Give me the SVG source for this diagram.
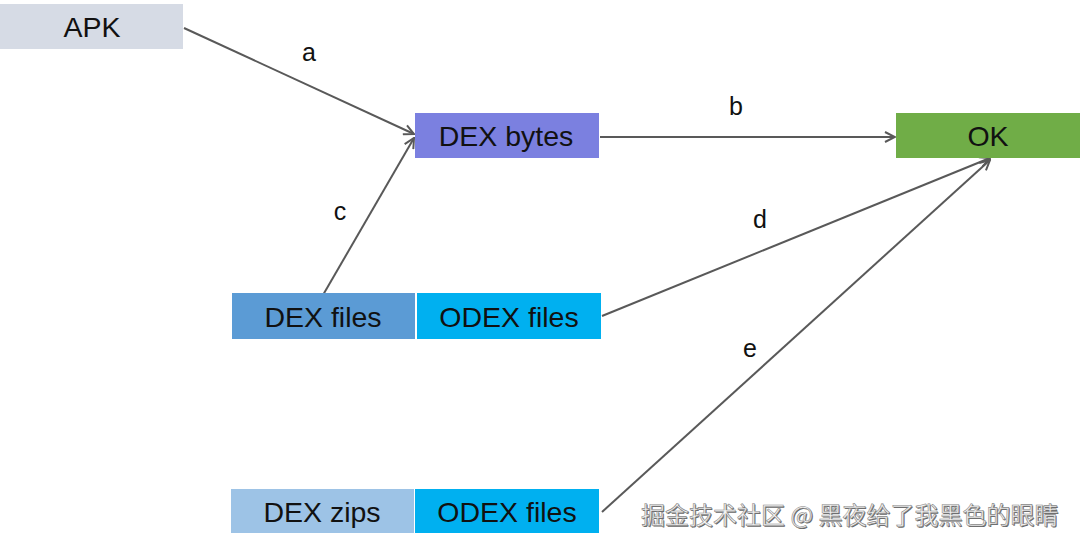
<svg xmlns="http://www.w3.org/2000/svg" width="1080" height="546" viewBox="0 0 1080 546">
<style>
.t{font-family:"Liberation Sans",Arial,sans-serif;font-size:28.5px;fill:#111;text-anchor:middle;dominant-baseline:central}
.l{font-family:"Liberation Sans",Arial,sans-serif;font-size:25px;fill:#111;text-anchor:middle;dominant-baseline:central}
.c{stroke:#595959;stroke-width:2;fill:none;marker-end:url(#ah)}
.w{font-family:"Noto Sans CJK SC",sans-serif;font-size:24px;text-anchor:start}
</style>
<defs>
<marker id="ah" viewBox="0 0 12 12" refX="11" refY="6" markerWidth="12" markerHeight="12" markerUnits="userSpaceOnUse" orient="auto">
<path d="M1,1 L11,6 L1,11" fill="none" stroke="#595959" stroke-width="2"/>
</marker>
</defs>
<rect width="1080" height="546" fill="#fff"/>
<g id="connectors">
<line class="c" x1="184" y1="28" x2="414" y2="134"/>
<line class="c" x1="323" y1="295" x2="414" y2="138"/>
<line class="c" x1="600" y1="137" x2="895" y2="137"/>
<line class="c" x1="602" y1="316" x2="990" y2="158"/>
<line class="c" x1="602" y1="512" x2="990" y2="160"/>
<text class="l" x="309" y="52">a</text>
<text class="l" x="736" y="106">b</text>
<text class="l" x="340" y="211">c</text>
<text class="l" x="760" y="219">d</text>
<text class="l" x="750" y="348">e</text>
</g>
<g id="apk"><rect x="0" y="4" width="183" height="45" fill="#d6dbe5"/><text class="t" x="92" y="27">APK</text></g>
<g id="dexbytes"><rect x="415" y="113" width="184" height="45" fill="#7b80e0"/><text class="t" x="506" y="136">DEX bytes</text></g>
<g id="ok"><rect x="896" y="113" width="184" height="45" fill="#70ad47"/><text class="t" x="988" y="136">OK</text></g>
<g id="dexfiles"><rect x="232" y="293" width="183" height="46" fill="#5b9bd5"/><text class="t" x="323" y="317">DEX files</text></g>
<g id="odexfiles1"><rect x="417" y="293" width="184" height="46" fill="#00b0f0"/><text class="t" x="509" y="317">ODEX files</text></g>
<g id="dexzips"><rect x="231" y="489" width="183" height="44" fill="#9dc3e6"/><text class="t" x="322" y="512">DEX zips</text></g>
<g id="odexfiles2"><rect x="415" y="489" width="184" height="44" fill="#00b0f0"/><text class="t" x="507" y="512">ODEX files</text></g>
<g id="watermark">
<text class="w" x="642" y="525" fill="#666">掘金技术社区 @ 黑夜给了我黑色的眼睛</text>
<text class="w" x="641" y="524" fill="#f4f4f4" stroke="#888" stroke-width="0.6">掘金技术社区 @ 黑夜给了我黑色的眼睛</text>
</g>
</svg>
